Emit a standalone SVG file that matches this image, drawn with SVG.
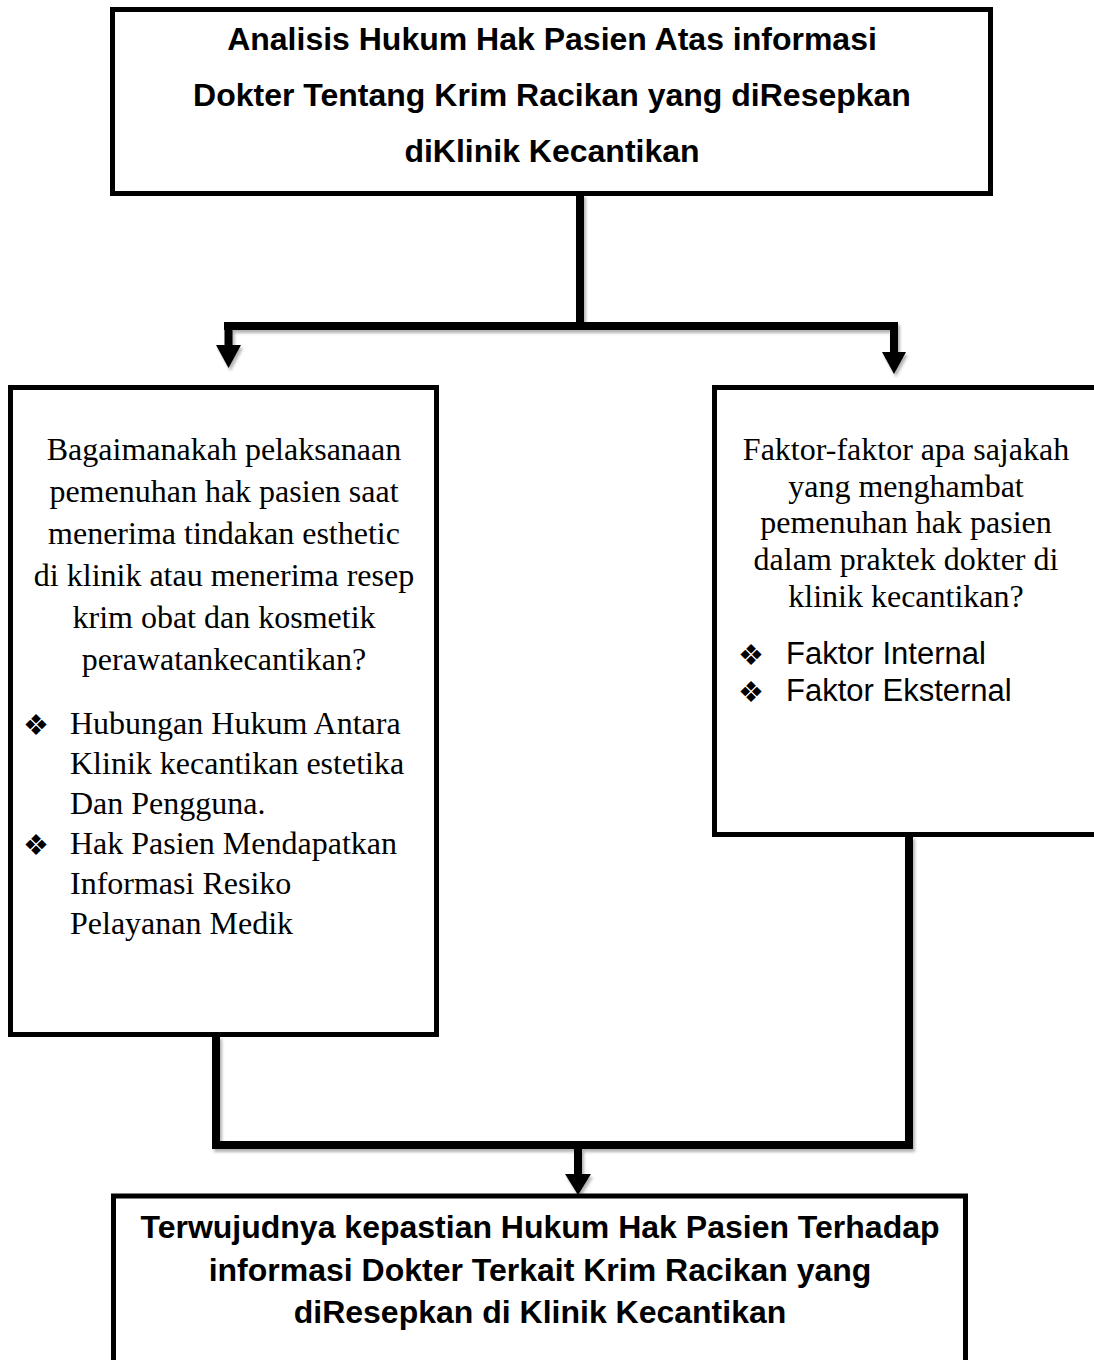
<svg xmlns="http://www.w3.org/2000/svg" width="1094" height="1360" viewBox="0 0 1094 1360">
  <defs>
    <filter id="sh" x="-10%" y="-10%" width="120%" height="130%">
      <feDropShadow dx="2" dy="3" stdDeviation="1.5" flood-color="#000" flood-opacity="0.3"/>
    </filter>
  </defs>
  <style>
    .box { fill: #fff; stroke: #000; stroke-width: 5; }
    .conn { fill: none; stroke: #000; stroke-width: 8; stroke-linejoin: miter; }
    .head { fill: #000; stroke: none; }
    .bold { font-family: "Liberation Sans", Arial, sans-serif; font-weight: bold; font-size: 32px; fill: #000; text-anchor: middle; }
    .serif { font-family: "Liberation Serif", "Times New Roman", serif; font-size: 32px; fill: #000; }
    .sans { font-family: "Liberation Sans", Arial, sans-serif; font-size: 31px; fill: #000; }
    .mid { text-anchor: middle; }
    .bul { font-family: "DejaVu Sans", sans-serif; font-size: 29px; fill: #000; text-anchor: middle; }
  </style>
  <rect width="1094" height="1360" fill="#fff"/>

  <g id="connectors" filter="url(#sh)">
    <path class="conn" d="M580,194 V326 M224,326 H898 M228.5,322 V348 M894,322 V354"/>
    <polygon class="head" points="216,345 241,345 228.5,368"/>
    <polygon class="head" points="882,352 906,352 894,374"/>
    <path class="conn" d="M216,1036 V1145 M909,836 V1145 M212,1145 H913 M578,1145 V1176"/>
    <polygon class="head" points="565,1174 591,1174 578,1195"/>
  </g>

  <g id="node-top">
    <rect class="box" x="112.5" y="9.5" width="878" height="184"/>
    <text class="bold" x="552" y="50">Analisis Hukum Hak Pasien Atas informasi</text>
    <text class="bold" x="552" y="106">Dokter Tentang Krim Racikan yang diResepkan</text>
    <text class="bold" x="552" y="162">diKlinik Kecantikan</text>
  </g>

  <g id="node-left">
    <rect class="box" x="10.5" y="387.5" width="426" height="647"/>
    <text class="serif mid" x="224" y="460">Bagaimanakah pelaksanaan</text>
    <text class="serif mid" x="224" y="502">pemenuhan hak pasien saat</text>
    <text class="serif mid" x="224" y="544">menerima tindakan esthetic</text>
    <text class="serif mid" x="224" y="586">di klinik atau menerima resep</text>
    <text class="serif mid" x="224" y="628">krim obat dan kosmetik</text>
    <text class="serif mid" x="224" y="670">perawatankecantikan?</text>
    <text class="bul" x="36" y="735">❖</text>
    <text class="serif" x="70" y="734">Hubungan Hukum Antara</text>
    <text class="serif" x="70" y="774">Klinik kecantikan estetika</text>
    <text class="serif" x="70" y="814">Dan Pengguna.</text>
    <text class="bul" x="36" y="855">❖</text>
    <text class="serif" x="70" y="854">Hak Pasien Mendapatkan</text>
    <text class="serif" x="70" y="894">Informasi Resiko</text>
    <text class="serif" x="70" y="934">Pelayanan Medik</text>
  </g>

  <g id="node-right">
    <rect class="box" x="714.5" y="387.5" width="400" height="447"/>
    <text class="serif mid" x="906" y="460">Faktor-faktor apa sajakah</text>
    <text class="serif mid" x="906" y="497">yang menghambat</text>
    <text class="serif mid" x="906" y="533">pemenuhan hak pasien</text>
    <text class="serif mid" x="906" y="570">dalam praktek dokter di</text>
    <text class="serif mid" x="906" y="607">klinik kecantikan?</text>
    <text class="bul" x="751" y="665">❖</text>
    <text class="sans" x="786" y="664">Faktor Internal</text>
    <text class="bul" x="751" y="702">❖</text>
    <text class="sans" x="786" y="701">Faktor Eksternal</text>
  </g>

  <g id="node-bottom">
    <rect class="box" x="113.5" y="1196" width="852" height="200"/>
    <text class="bold" x="540" y="1238">Terwujudnya kepastian Hukum Hak Pasien Terhadap</text>
    <text class="bold" x="540" y="1281">informasi Dokter Terkait Krim Racikan yang</text>
    <text class="bold" x="540" y="1323">diResepkan di Klinik Kecantikan</text>
  </g>
</svg>
